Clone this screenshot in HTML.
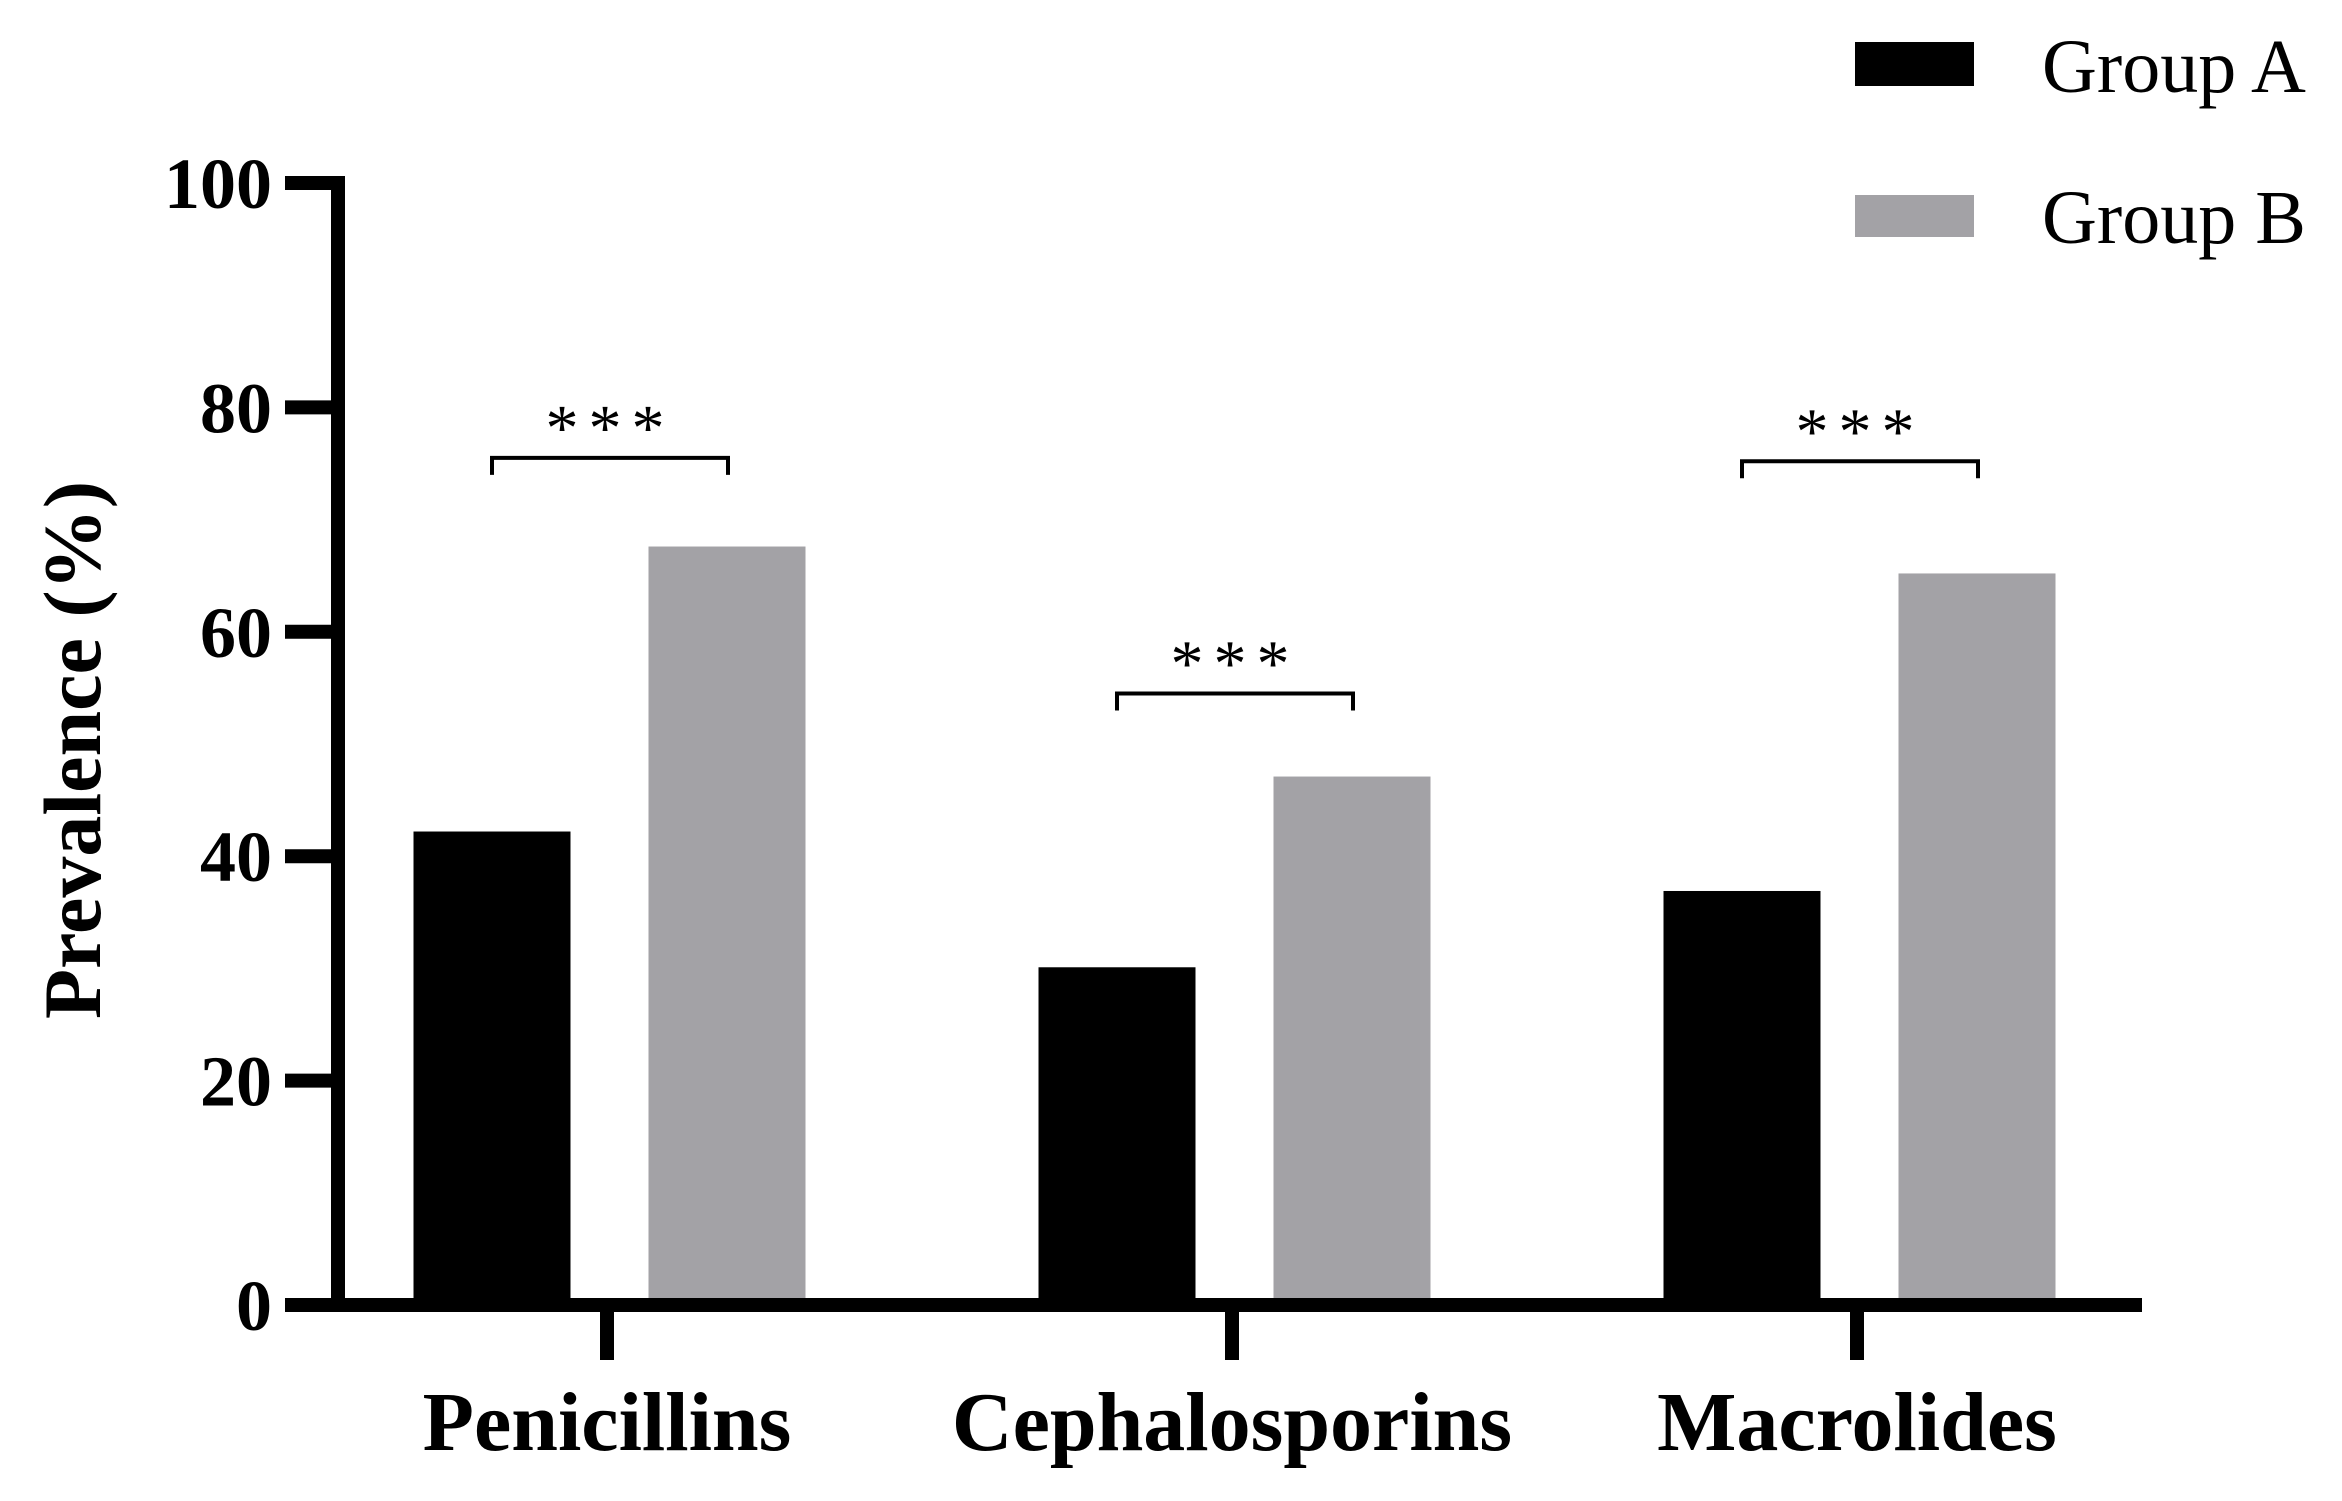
<!DOCTYPE html>
<html><head><meta charset="utf-8"><style>
html,body{margin:0;padding:0;background:#fff;width:2342px;height:1501px;overflow:hidden}
svg{display:block}
text{font-family:"Liberation Serif",serif}
</style></head><body>
<svg id="chart" width="2342" height="1501" viewBox="0 0 2342 1501" xmlns="http://www.w3.org/2000/svg"></svg>
<script>
const categories = ["Penicillins","Cephalosporins","Macrolides"];
const groupA = [42.2, 30.1, 36.9];
const groupB = [67.6, 47.1, 65.2];
const yTicks = [0,20,40,60,80,100];
const sigLabels = ["***","***","***"];
const sigLevels = [75.5, 54.5, 75.2];

const NS="http://www.w3.org/2000/svg";
const svg=document.getElementById('chart');
const y0=1305, y100=183, xAxisL=285, xAxisR=2142, yAxisX=338;
const catX0=607, catStep=625, barW=157, barOff=116;
function yScale(v){return y0-(v/100)*(y0-y100);}
function xScale(i){return catX0+i*catStep;}
function mk(tag,attrs){const e=document.createElementNS(NS,tag);for(const k in attrs)e.setAttribute(k,attrs[k]);svg.appendChild(e);return e;}

categories.forEach((c,i)=>{
  const cx=xScale(i);
  const a=mk('rect',{x:cx-barOff-barW/2+1,y:yScale(groupA[i]),width:barW,height:y0-yScale(groupA[i]),fill:'#000'});
  
  
  const b=mk('rect',{x:cx+barOff-barW/2+4,y:yScale(groupB[i]),width:barW,height:y0-yScale(groupB[i]),fill:'#a3a2a6'});
  
  
  const by=yScale(sigLevels[i]);
  const x1=cx-barOff+1, x2=cx+barOff+5;
  const br=mk('path',{d:`M${x1},${by+17} V${by} H${x2} V${by+17}`,fill:'none',stroke:'#000','stroke-width':4});
  
  
  const st=mk('text',{x:(x1+x2)/2,y:by-8,'text-anchor':'middle','font-size':66,'letter-spacing':10});
  st.textContent=sigLabels[i];
  
  
  const t=mk('line',{x1:cx,x2:cx,y1:y0,y2:1360,stroke:'#000','stroke-width':14});
  
  
  const lab=mk('text',{x:cx,y:1450,'text-anchor':'middle','font-size':84,'font-weight':'bold'});
  lab.textContent=c;
  
  
});

const ya=mk('line',{x1:yAxisX,x2:yAxisX,y1:y100-7,y2:y0+7,stroke:'#000','stroke-width':14});


const xa=mk('line',{x1:xAxisL,x2:xAxisR,y1:y0,y2:y0,stroke:'#000','stroke-width':14});


yTicks.forEach(v=>{
  const l=mk('line',{x1:xAxisL,x2:yAxisX,y1:yScale(v),y2:yScale(v),stroke:'#000','stroke-width':14});
  
  
  const t=mk('text',{x:272,y:yScale(v)+25,'text-anchor':'end','font-size':72,'font-weight':'bold'});
  t.textContent=v;
  
  
});
const yt=mk('text',{x:0,y:0,transform:'translate(100,750) rotate(-90)','text-anchor':'middle','font-size':82,'font-weight':'bold'});
yt.textContent='Prevalence (%)';



const la=mk('rect',{x:1855,y:42,width:119,height:44,fill:'#000'});


const lat=mk('text',{x:2042,y:92,'font-size':76});
lat.textContent='Group A';


const lb=mk('rect',{x:1855,y:195,width:119,height:42,fill:'#a3a2a6'});


const lbt=mk('text',{x:2042,y:243,'font-size':76});
lbt.textContent='Group B';


</script>
</body></html>
